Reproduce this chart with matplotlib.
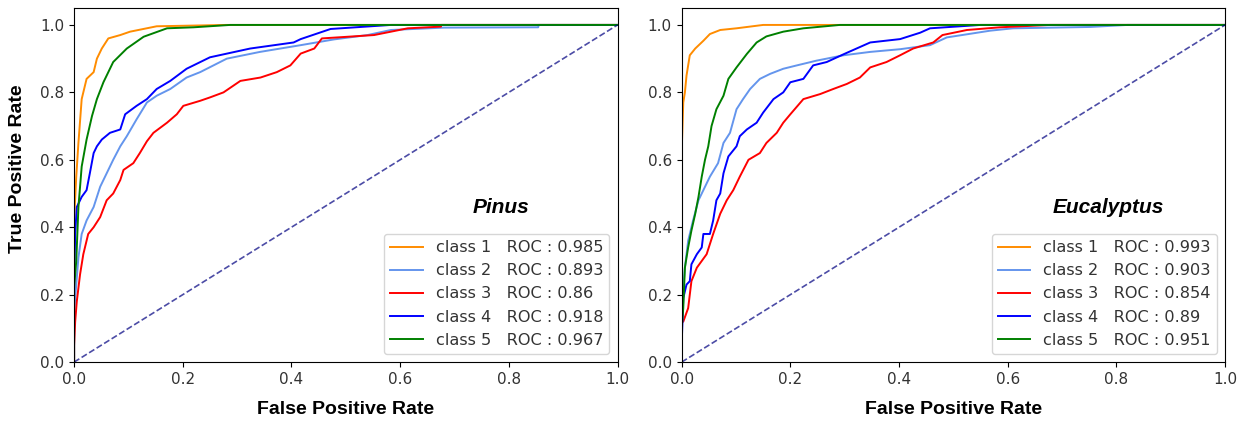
import matplotlib
matplotlib.use("Agg")
import matplotlib.pyplot as plt

# ROC curves (false positive rate, true positive rate)
class_names = ["class 1", "class 2", "class 3", "class 4", "class 5"]
colors = ["darkorange", "cornflowerblue", "red", "blue", "green"]

# --- Pinus ---
pinus_auc = ["0.985", "0.893", "0.86", "0.918", "0.967"]
pinus_fpr = [
    [0, 0, 0.004, 0.008, 0.014, 0.023, 0.036, 0.042, 0.051, 0.063, 0.085, 0.103, 0.152, 0.28, 1.0],
    [0, 0, 0.008, 0.014, 0.023, 0.036, 0.048, 0.06, 0.072, 0.085, 0.097, 0.115, 0.134, 0.152,
     0.177, 0.207, 0.232, 0.281, 0.342, 0.417, 0.478, 0.54, 0.583, 0.68, 0.854, 0.855, 1.0],
    [0, 0, 0.002, 0.005, 0.011, 0.017, 0.02, 0.026, 0.036, 0.048, 0.06, 0.072, 0.085, 0.091,
     0.109, 0.121, 0.134, 0.146, 0.171, 0.189, 0.201, 0.232, 0.25, 0.275, 0.306, 0.343, 0.373,
     0.398, 0.417, 0.442, 0.456, 0.552, 0.583, 0.614, 0.675, 0.676, 1.0],
    [0, 0, 0.002, 0.005, 0.014, 0.023, 0.029, 0.036, 0.042, 0.051, 0.066, 0.085, 0.094, 0.115,
     0.134, 0.152, 0.177, 0.207, 0.25, 0.324, 0.404, 0.417, 0.472, 0.583, 1.0],
    [0, 0, 0.004, 0.008, 0.014, 0.023, 0.033, 0.042, 0.054, 0.072, 0.097, 0.128, 0.171, 0.22,
     0.287, 1.0],
]
pinus_tpr = [
    [0, 0.42, 0.55, 0.65, 0.78, 0.84, 0.86, 0.9, 0.93, 0.96, 0.97, 0.98, 0.996, 1.0, 1.0],
    [0, 0.15, 0.31, 0.38, 0.42, 0.46, 0.52, 0.56, 0.6, 0.64, 0.67, 0.72, 0.77, 0.79,
     0.81, 0.844, 0.86, 0.9, 0.92, 0.94, 0.957, 0.97, 0.985, 0.992, 0.993, 1.0, 1.0],
    [0, 0.05, 0.12, 0.18, 0.26, 0.32, 0.34, 0.38, 0.4, 0.43, 0.48, 0.5, 0.54, 0.57,
     0.59, 0.62, 0.655, 0.68, 0.71, 0.735, 0.76, 0.775, 0.785, 0.8, 0.834, 0.844, 0.86,
     0.88, 0.915, 0.93, 0.96, 0.97, 0.98, 0.99, 0.995, 1.0, 1.0],
    [0, 0.22, 0.38, 0.46, 0.49, 0.51, 0.56, 0.62, 0.64, 0.66, 0.68, 0.69, 0.735, 0.76,
     0.78, 0.81, 0.834, 0.87, 0.904, 0.93, 0.948, 0.958, 0.988, 1.0, 1.0],
    [0, 0.22, 0.3, 0.46, 0.58, 0.66, 0.73, 0.78, 0.83, 0.89, 0.93, 0.965, 0.99, 0.993,
     1.0, 1.0],
]

# --- Eucalyptus ---
euc_auc = ["0.993", "0.903", "0.854", "0.89", "0.951"]
euc_fpr = [
    [0, 0, 0.003, 0.006, 0.009, 0.015, 0.025, 0.04, 0.052, 0.071, 0.101, 0.15, 1.0],
    [0, 0, 0.002, 0.006, 0.012, 0.021, 0.031, 0.04, 0.052, 0.067, 0.077, 0.089, 0.101, 0.113,
     0.126, 0.144, 0.163, 0.187, 0.212, 0.248, 0.298, 0.347, 0.402, 0.457, 0.488, 0.568,
     0.61, 0.752, 0.82, 1.0],
    [0, 0, 0.003, 0.012, 0.018, 0.028, 0.037, 0.046, 0.058, 0.071, 0.083, 0.095, 0.107, 0.123,
     0.144, 0.156, 0.175, 0.187, 0.2, 0.224, 0.255, 0.279, 0.304, 0.328, 0.347, 0.377,
     0.402, 0.426, 0.463, 0.48, 0.525, 0.586, 0.678, 1.0],
    [0, 0, 0.003, 0.009, 0.015, 0.018, 0.028, 0.037, 0.04, 0.052, 0.058, 0.064, 0.071, 0.077,
     0.086, 0.101, 0.107, 0.12, 0.138, 0.15, 0.169, 0.187, 0.2, 0.224, 0.242, 0.267, 0.298,
     0.347, 0.402, 0.439, 0.457, 0.55, 1.0],
    [0, 0, 0.003, 0.006, 0.012, 0.018, 0.025, 0.031, 0.037, 0.043, 0.049, 0.055, 0.064, 0.077,
     0.086, 0.101, 0.12, 0.138, 0.156, 0.187, 0.224, 0.291, 1.0],
]
euc_tpr = [
    [0, 0.62, 0.77, 0.8, 0.85, 0.91, 0.93, 0.953, 0.973, 0.985, 0.99, 1.0, 1.0],
    [0, 0.05, 0.2, 0.28, 0.36, 0.42, 0.48, 0.51, 0.55, 0.59, 0.65, 0.68, 0.75, 0.78,
     0.81, 0.84, 0.855, 0.87, 0.88, 0.894, 0.91, 0.92, 0.928, 0.94, 0.963, 0.983,
     0.99, 0.994, 1.0, 1.0],
    [0, 0.12, 0.12, 0.16, 0.24, 0.28, 0.3, 0.32, 0.38, 0.44, 0.48, 0.51, 0.55, 0.6,
     0.62, 0.65, 0.68, 0.71, 0.735, 0.78, 0.795, 0.81, 0.825, 0.844, 0.874, 0.89,
     0.91, 0.93, 0.948, 0.97, 0.985, 0.993, 1.0, 1.0],
    [0, 0.05, 0.19, 0.23, 0.24, 0.29, 0.32, 0.34, 0.38, 0.38, 0.42, 0.48, 0.5, 0.56,
     0.61, 0.64, 0.67, 0.69, 0.71, 0.74, 0.78, 0.8, 0.83, 0.84, 0.88, 0.89, 0.913,
     0.948, 0.958, 0.977, 0.99, 1.0, 1.0],
    [0, 0.1, 0.16, 0.28, 0.34, 0.39, 0.44, 0.49, 0.55, 0.6, 0.64, 0.7, 0.75, 0.79,
     0.84, 0.874, 0.914, 0.948, 0.966, 0.98, 0.99, 1.0, 1.0],
]

panels = [
    ("Pinus", pinus_fpr, pinus_tpr, pinus_auc),
    ("Eucalyptus", euc_fpr, euc_tpr, euc_auc),
]

fig = plt.figure(figsize=(12.45, 4.25), dpi=100)
ax_pos = [[0.0595, 0.148, 0.4365, 0.833], [0.5475, 0.148, 0.4365, 0.833]]

for k, (title, fprs, tprs, aucs) in enumerate(panels):
    ax = fig.add_axes(ax_pos[k])
    for i in range(len(class_names)):
        ax.plot(fprs[i], tprs[i], color=colors[i], lw=1.4,
                label=f"{class_names[i]}   ROC : {aucs[i]}")
    ax.plot([0, 1], [0, 1], color="navy", lw=1.2, ls="--", alpha=0.7)

    ax.set_xlim(0.0, 1.0)
    ax.set_ylim(0.0, 1.05)
    ax.set_xticks([0.0, 0.2, 0.4, 0.6, 0.8, 1.0])
    ax.set_yticks([0.0, 0.2, 0.4, 0.6, 0.8, 1.0])
    ax.tick_params(labelsize=11, labelcolor="#333333")
    ax.set_xlabel("False Positive Rate", fontsize=14, fontweight="bold",
                  family="Liberation Sans", labelpad=10)
    if k == 0:
        ax.set_ylabel("True Positive Rate", fontsize=14, fontweight="bold",
                      family="Liberation Sans")
        ax.yaxis.set_label_coords(-0.089, 0.545)
    ax.text(0.785, 0.46, title, fontsize=15, fontweight="bold", style="italic",
            family="Liberation Sans", ha="center", va="center", transform=ax.transData)
    leg = ax.legend(loc="lower right", fontsize=11.6, handlelength=2.0)
    for t in leg.get_texts():
        t.set_color("#333333")

fig.savefig("out.png", dpi=100)
